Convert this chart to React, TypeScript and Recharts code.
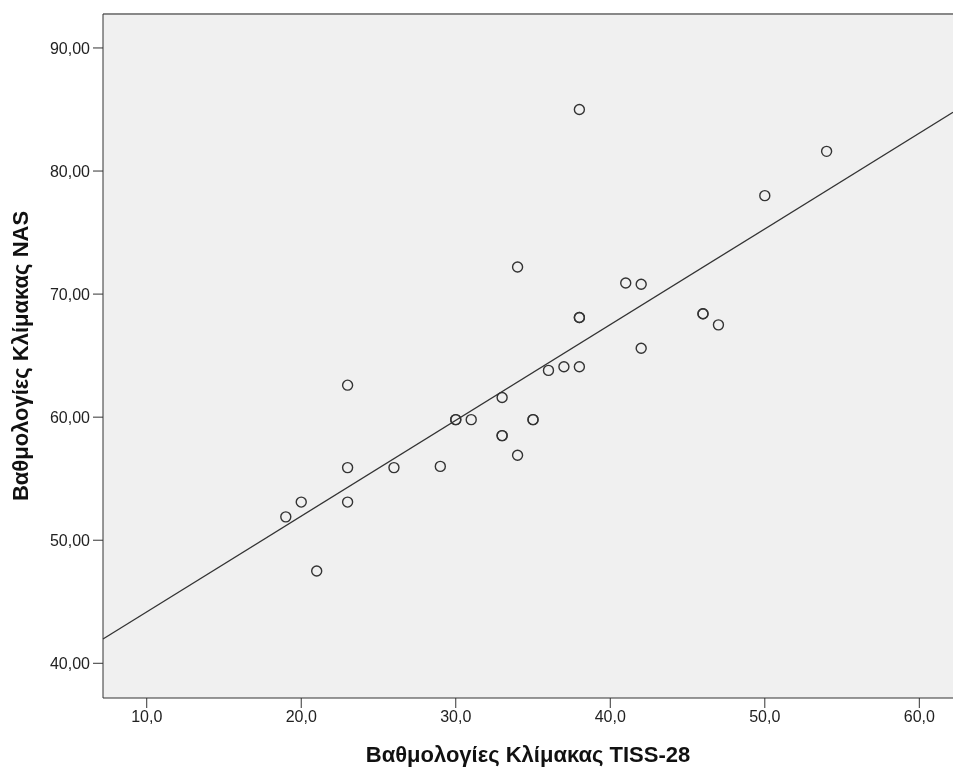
import {
  CartesianGrid,
  ReferenceLine,
  Scatter,
  ScatterChart,
  XAxis,
  YAxis,
} from 'recharts';

// TISS-28 scores (x) vs NAS scores (y); repeated pairs are drawn twice like the original
const tissScores = [
  19, 20, 21, 23, 23, 23, 26, 29, 30, 30, 31, 33, 33, 33, 34, 34,
  35, 35, 36, 37, 38, 38, 38, 38, 41, 42, 42, 46, 46, 47, 50, 54,
];
const nasScores = [
  51.9, 53.1, 47.5, 62.6, 55.9, 53.1, 55.9, 56.0, 59.8, 59.8, 59.8, 61.6, 58.5, 58.5, 56.9, 72.2,
  59.8, 59.8, 63.8, 64.1, 64.1, 68.1, 68.1, 85.0, 70.9, 70.8, 65.6, 68.4, 68.4, 67.5, 78.0, 81.6,
];

const xTicks = [10, 20, 30, 40, 50, 60];
const yTicks = [40, 50, 60, 70, 80, 90];

// fit line
const intercept = 36.4;
const slope = 0.778;

const X_MIN = 7.17;
const X_MAX = 62.18;
const Y_MIN = 37.18;
const Y_MAX = 92.76;

const points = tissScores.map((x, i) => ({ x, y: nasScores[i] }));

const FONT = '"Liberation Sans", Arial, sans-serif';

const Ring = (props: any) => (
  <circle cx={props.cx} cy={props.cy} r={5} fill="none" stroke="#333" strokeWidth={1.4} />
);

export default function App() {
  // fixed so the plot can run to the right edge of the window without scrollbars
  return (
    <div style={{ position: 'fixed', left: 8, top: 8, fontFamily: FONT }}>
      <ScatterChart
        width={945}
        height={761}
        margin={{ top: 6, right: 0, bottom: 0, left: 0 }}
      >
        <CartesianGrid fill="#f0f0f0" horizontal={false} vertical={false} />
        <XAxis
          type="number"
          dataKey="x"
          domain={[X_MIN, X_MAX]}
          allowDataOverflow
          ticks={xTicks}
          tickFormatter={(v: number) => v.toFixed(1).replace('.', ',')}
          height={71}
          tickSize={10}
          tickMargin={3}
          stroke="#333"
          tick={{ fill: '#222', fontSize: 16, fontFamily: FONT }}
          label={{
            value: 'Βαθμολογίες Κλίμακας TISS-28',
            position: 'insideBottom',
            offset: 7,
            fill: '#111',
            fontSize: 22,
            fontWeight: 'bold',
            fontFamily: FONT,
          }}
        />
        <YAxis
          type="number"
          dataKey="y"
          domain={[Y_MIN, Y_MAX]}
          allowDataOverflow
          ticks={yTicks}
          tickFormatter={(v: number) => v.toFixed(2).replace('.', ',')}
          width={95}
          tickSize={10}
          tickMargin={3}
          stroke="#333"
          tick={{ fill: '#222', fontSize: 16, fontFamily: FONT }}
          label={{
            value: 'Βαθμολογίες Κλίμακας NAS',
            angle: -90,
            position: 'center',
            dx: -35,
            fill: '#111',
            fontSize: 22,
            fontWeight: 'bold',
            fontFamily: FONT,
          }}
        />
        <ReferenceLine y={Y_MAX} stroke="#888" strokeWidth={2} />
        <ReferenceLine
          segment={[
            { x: X_MIN, y: intercept + slope * X_MIN },
            { x: X_MAX, y: intercept + slope * X_MAX },
          ]}
          stroke="#333"
          strokeWidth={1.3}
        />
        <Scatter data={points} shape={Ring} isAnimationActive={false} />
      </ScatterChart>
    </div>
  );
}
